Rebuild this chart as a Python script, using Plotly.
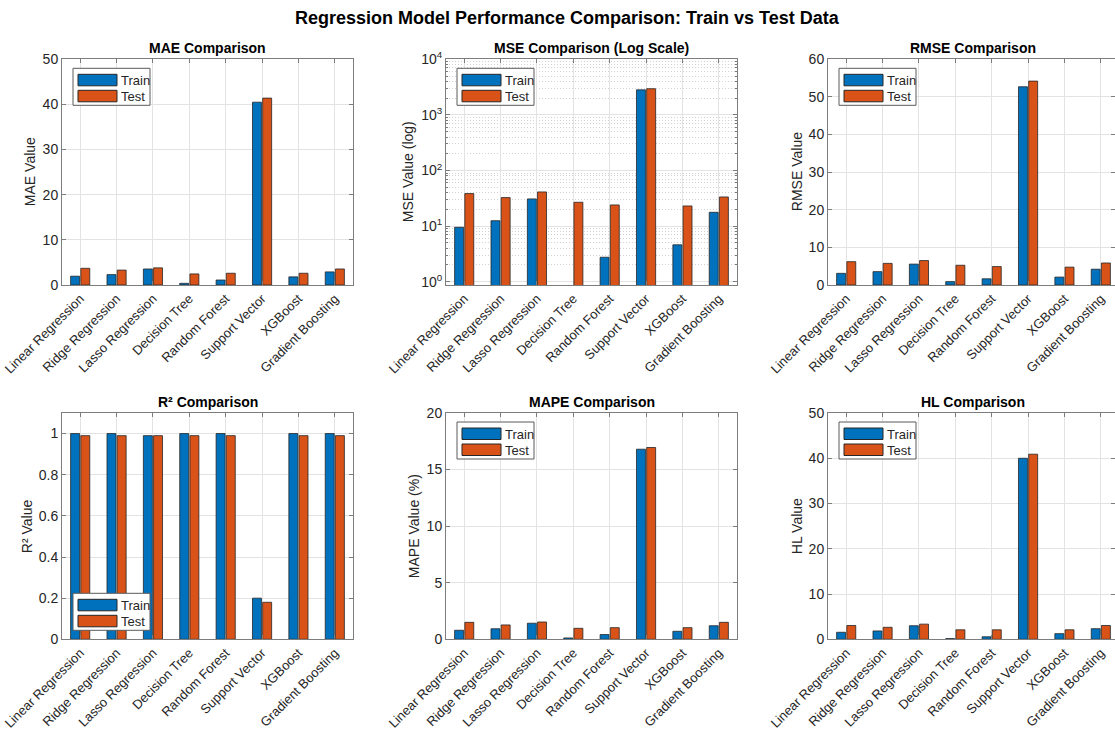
import plotly.graph_objects as go
from plotly.subplots import make_subplots

# ---- data -------------------------------------------------------------
models = ["Linear Regression", "Ridge Regression", "Lasso Regression", "Decision Tree",
          "Random Forest", "Support Vector", "XGBoost", "Gradient Boosting"]

mae_train = [1.95, 2.3, 3.55, 0.37, 1.1, 40.5, 1.8, 2.9]
mae_test = [3.7, 3.3, 3.8, 2.45, 2.6, 41.4, 2.6, 3.55]

mse_train = [9.5, 12.5, 30.8, 0.8, 2.75, 2820, 4.6, 17.7]
mse_test = [38.4, 32.5, 41.1, 26.8, 24.0, 2960, 23.0, 33.4]

rmse_train = [3.1, 3.55, 5.55, 0.9, 1.65, 52.7, 2.1, 4.2]
rmse_test = [6.2, 5.75, 6.5, 5.25, 4.9, 54.2, 4.75, 5.85]

r2_train = [1.0, 1.0, 0.99, 1.0, 1.0, 0.2, 1.0, 1.0]
r2_test = [0.99, 0.99, 0.99, 0.99, 0.99, 0.18, 0.99, 0.99]

mape_train = [0.8, 0.93, 1.42, 0.12, 0.42, 16.8, 0.71, 1.2]
mape_test = [1.5, 1.27, 1.53, 0.97, 1.03, 16.95, 1.03, 1.5]

hl_train = [1.55, 1.85, 3.0, 0.15, 0.55, 40.0, 1.25, 2.35]
hl_test = [3.05, 2.65, 3.35, 2.1, 2.1, 40.9, 2.1, 3.05]

series_names = ["Train", "Test"]

# ---- style ------------------------------------------------------------
W, H = 1115, 731
FONT = "Liberation Sans, Arial, Helvetica, sans-serif"
C_TRAIN = "#0072BD"
C_TEST = "#D95319"
EDGE = "#262626"
AXIS_LINE = "#7d7d7d"
GRID = "#e3e3e3"
TXT = "#262626"

# panel boxes in pixels: (left, right, top, bottom)
COL_X = [(62, 353), (446, 737), (828, 1115)]
ROW_Y = [(59.3, 285), (413, 639.3)]

panels = [
    dict(title="MAE Comparison", ytitle="MAE Value", train=mae_train, test=mae_test,
         yrange=[0, 50], dtick=10, ytx=30, legend="top"),
    dict(title="MSE Comparison (Log Scale)", ytitle="MSE Value (log)", train=mse_train, test=mse_test,
         yrange=[-0.06, 4], log=True, ytx=408, legend="top"),
    dict(title="RMSE Comparison", ytitle="RMSE Value", train=rmse_train, test=rmse_test,
         yrange=[0, 60], dtick=10, ytx=797, legend="top"),
    dict(title="R² Comparison", ytitle="R² Value", train=r2_train, test=r2_test,
         yrange=[0, 1.1], tickvals=[0, 0.2, 0.4, 0.6, 0.8, 1],
         ticktext=["0", "0.2", "0.4", "0.6", "0.8", "1"], ytx=27, legend="bottom"),
    dict(title="MAPE Comparison", ytitle="MAPE Value (%)", train=mape_train, test=mape_test,
         yrange=[0, 20], dtick=5, ytx=414, legend="top"),
    dict(title="HL Comparison", ytitle="HL Value", train=hl_train, test=hl_test,
         yrange=[0, 50], dtick=10, ytx=797, legend="top"),
]

fig = make_subplots(rows=2, cols=3)

shapes = []
annotations = []


def px(xp):
    return xp / W


def py(yp):
    return 1 - yp / H


UNIT = (COL_X[0][1] - COL_X[0][0]) / 8.0  # pixels per category

for i, p in enumerate(panels):
    r, c = divmod(i, 3)
    L, R = COL_X[c]
    T, B = ROW_Y[r]
    for name, vals, color in [(series_names[0], p["train"], C_TRAIN),
                              (series_names[1], p["test"], C_TEST)]:
        fig.add_trace(go.Bar(x=models, y=vals, name=name, showlegend=False,
                             marker=dict(color=color, line=dict(color=EDGE, width=0.8))),
                      row=r + 1, col=c + 1)

    xr = [-0.5, -0.5 + (R - L) / UNIT]
    xa = dict(domain=[px(L), px(R)], range=xr, tickangle=-45, showline=True, linecolor=AXIS_LINE,
              linewidth=1, mirror="ticks", ticks="inside", ticklen=4, tickcolor=AXIS_LINE,
              showgrid=True, gridcolor=GRID, gridwidth=1, zeroline=False, automargin=False,
              tickfont=dict(family=FONT, size=13, color=TXT), fixedrange=True)
    ya = dict(domain=[py(B), py(T)], range=p["yrange"], showline=True, linecolor=AXIS_LINE,
              linewidth=1, mirror="ticks", ticks="inside", ticklen=4, tickcolor=AXIS_LINE,
              showgrid=True, gridcolor=GRID, gridwidth=1, zeroline=False, automargin=False,
              tickfont=dict(family=FONT, size=14, color=TXT), fixedrange=True)
    if p.get("log"):
        decades = [1, 10, 100, 1000, 10000]
        ya.update(type="log", tickmode="array", tickvals=decades,
                  ticktext=["10<sup>%d</sup>" % k for k in range(5)],
                  minor=dict(tickmode="array",
                             tickvals=[m * d for d in decades[:-1] for m in range(2, 10)],
                             showgrid=True, griddash="1px,2px", gridcolor="#d2d2d2",
                             ticks="inside", ticklen=2, tickcolor=AXIS_LINE))
    elif "tickvals" in p:
        ya.update(tickmode="array", tickvals=p["tickvals"], ticktext=p["ticktext"])
    else:
        ya.update(dtick=p["dtick"], tick0=0)

    sfx = "" if i == 0 else str(i + 1)
    fig.layout["xaxis" + sfx].update(xa)
    fig.layout["yaxis" + sfx].update(ya)

    # panel title
    annotations.append(dict(text="<b>%s</b>" % p["title"], x=px((L + L + 291) / 2),
                            y=py(T - 11), xref="paper", yref="paper", showarrow=False,
                            xanchor="center", yanchor="middle",
                            font=dict(family=FONT, size=14, color="#000")))
    # y-axis title
    annotations.append(dict(text=p["ytitle"], x=px(p["ytx"]), y=py((T + B) / 2),
                            xref="paper", yref="paper", showarrow=False, textangle=-90,
                            xanchor="center", yanchor="middle",
                            font=dict(family=FONT, size=14, color=TXT)))

    # legend box
    bl = L + 11
    bt = T + 9 if p["legend"] == "top" else B - 9 - 37
    shapes.append(dict(type="rect", xref="paper", yref="paper",
                       x0=px(bl), x1=px(bl + 77), y0=py(bt), y1=py(bt + 37),
                       line=dict(color="#5a5a5a", width=1), fillcolor="white", layer="above"))
    for k, (name, color) in enumerate([(series_names[0], C_TRAIN), (series_names[1], C_TEST)]):
        t0 = bt + 6 + 16 * k
        shapes.append(dict(type="rect", xref="paper", yref="paper",
                           x0=px(bl + 5), x1=px(bl + 44), y0=py(t0), y1=py(t0 + 11.5),
                           line=dict(color=EDGE, width=1), fillcolor=color, layer="above"))
        annotations.append(dict(text=name, x=px(bl + 46), y=py(t0 + 6), xref="paper",
                                yref="paper", showarrow=False, xanchor="left", yanchor="middle",
                                font=dict(family=FONT, size=13, color=TXT)))

annotations.append(dict(text="<b>Regression Model Performance Comparison: Train vs Test Data</b>",
                        x=px(567), y=py(18), xref="paper", yref="paper", showarrow=False,
                        xanchor="center", yanchor="middle",
                        font=dict(family=FONT, size=18, color="#000")))

fig.update_layout(width=W, height=H, margin=dict(l=0, r=0, t=0, b=0, autoexpand=False),
                  paper_bgcolor="white", plot_bgcolor="white",
                  barmode="group", bargap=0.44, bargroupgap=0.12,
                  shapes=shapes, annotations=annotations, showlegend=False,
                  font=dict(family=FONT, color=TXT))

fig.write_html("out.html", config={"displayModeBar": False})
